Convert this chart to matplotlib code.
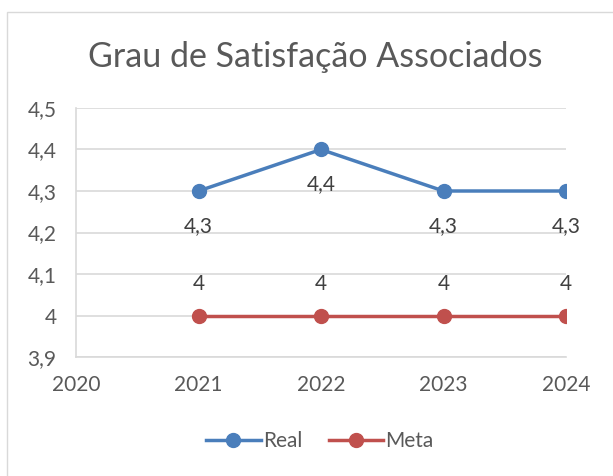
import matplotlib.pyplot as plt
from matplotlib.patches import Rectangle

anos = [2020, 2021, 2022, 2023, 2024]
anos_real = [2021, 2022, 2023, 2024]
real = [4.3, 4.4, 4.3, 4.3]
meta = [4, 4, 4, 4]
y_ticks = [3.9, 4.0, 4.1, 4.2, 4.3, 4.4, 4.5]

azul = '#4A7EBB'
vermelho = '#C0504D'
cinza_txt = '#595959'
cinza_grid = '#D9D9D9'

plt.rcParams['font.family'] = ['Lato', 'DejaVu Sans']

W, H = 613, 476
fig = plt.figure(figsize=(W / 100, H / 100), dpi=100)

# borda do grafico (estilo Excel)
fig.patches.append(Rectangle((7 / W, -0.01), 1.02, 1 - 12 / H + 0.01,
                             transform=fig.transFigure, fill=False,
                             edgecolor=cinza_grid, linewidth=1))

ax = fig.add_axes([76 / W, 1 - 357 / H, (566 - 76) / W, (357 - 108) / H])

ax.plot(anos_real, real, color=azul, lw=2.5, marker='o', ms=10, label='Real', zorder=3)
ax.plot(anos_real, meta, color=vermelho, lw=2.5, marker='o', ms=10, label='Meta', zorder=3)

fmt = lambda v: ('%g' % v).replace('.', ',')
for x, v in zip(anos_real, real):
    ax.annotate(fmt(v), (x, v), xytext=(0, -25), textcoords='offset points',
                ha='center', va='center', fontsize=15, color='#404040')
for x, v in zip(anos_real, meta):
    ax.annotate(fmt(v), (x, v), xytext=(0, 23), textcoords='offset points',
                ha='center', va='center', fontsize=15, color='#404040')

ax.set_xlim(anos[0], anos[-1])
ax.set_ylim(3.9, 4.5)
ax.set_xticks(anos)
ax.set_yticks(y_ticks)
ax.set_yticklabels([fmt(round(v, 1)) for v in y_ticks])
ax.tick_params(length=0, labelsize=15, colors=cinza_txt)
ax.tick_params(axis='x', pad=13)
ax.tick_params(axis='y', pad=14)
ax.grid(axis='y', color=cinza_grid, lw=1.2)
ax.set_axisbelow(True)
for s in ['top', 'right']:
    ax.spines[s].set_visible(False)
for s in ['left', 'bottom']:
    ax.spines[s].set_color(cinza_grid)
    ax.spines[s].set_linewidth(1.2)

fig.text(315 / W, 1 - 57 / H, 'Grau de Satisfação Associados', ha='center', va='center',
         fontsize=24.5, color=cinza_txt)

fig.legend(loc='center', bbox_to_anchor=(320 / W, 1 - 441 / H), ncol=2, frameon=False,
           fontsize=15, labelcolor=cinza_txt, handlelength=2.6, columnspacing=1.3,
           handletextpad=0.1)

fig.savefig('out.png', dpi=100)
